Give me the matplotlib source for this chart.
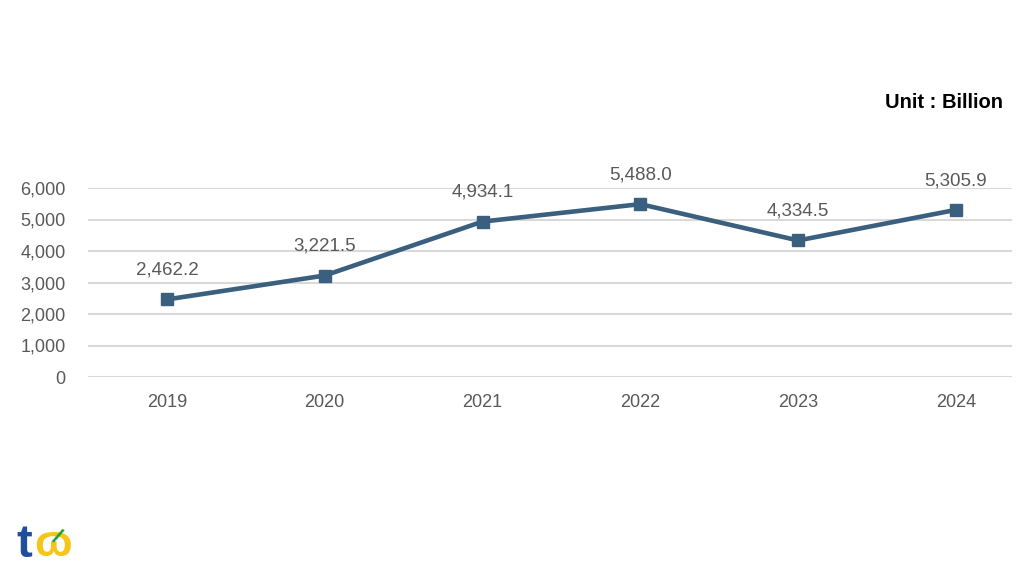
import numpy as np
import matplotlib.pyplot as plt

years = ["2019", "2020", "2021", "2022", "2023", "2024"]
values = [2462.2, 3221.5, 4934.1, 5488.0, 4334.5, 5305.9]
yticks = [0, 1000, 2000, 3000, 4000, 5000, 6000]

plt.rcParams['font.family'] = ['Liberation Sans', 'DejaVu Sans']

fig = plt.figure(figsize=(10.24, 5.76), dpi=100)
ax = fig.add_axes([88/1024, 1-377/576, (1012-88)/1024, (377-188)/576])

x = np.arange(len(years))
ax.plot(x, values, color='#3b5f7e', lw=3.3, marker='s', ms=9, zorder=3)
for xi, v in zip(x, values):
    ax.annotate(f"{v:,.1f}", (xi, v), xytext=(0, 15), textcoords='offset points',
                ha='center', va='bottom', fontsize=13.5, color='#595959')

ax.set_xlim(-0.5, 5.355)
ax.set_ylim(0, 6000)
ax.set_yticks(yticks)
ax.set_yticklabels([f"{t:,}" for t in yticks])
ax.set_xticks(x)
ax.set_xticklabels(years)
ax.tick_params(length=0, labelsize=13, labelcolor='#595959')
ax.tick_params(axis='y', pad=16)
ax.tick_params(axis='x', pad=12)
ax.grid(axis='y', color='#d9d9d9', lw=1.5)
ax.set_axisbelow(True)
for s in ax.spines.values():
    s.set_visible(False)

fig.text(1003/1024, 1-102/576, "Unit : Billion", ha='right', va='center',
         fontsize=14.5, fontweight='bold', color='black')

# logo
fig.text(16/1024, 1-545/576, "t", fontsize=34, fontweight='bold', color='#1f4e9c', va='center')
fig.text(34/1024, 1-545/576, "ɷ", fontsize=32, fontweight='bold', color='#f5c518', va='center')
fig.text(48/1024, 1-538/576, "/", fontsize=16, fontweight='bold', color='#1a9a3a', va='center', rotation=-30)

fig.savefig("out.png", dpi=100)
